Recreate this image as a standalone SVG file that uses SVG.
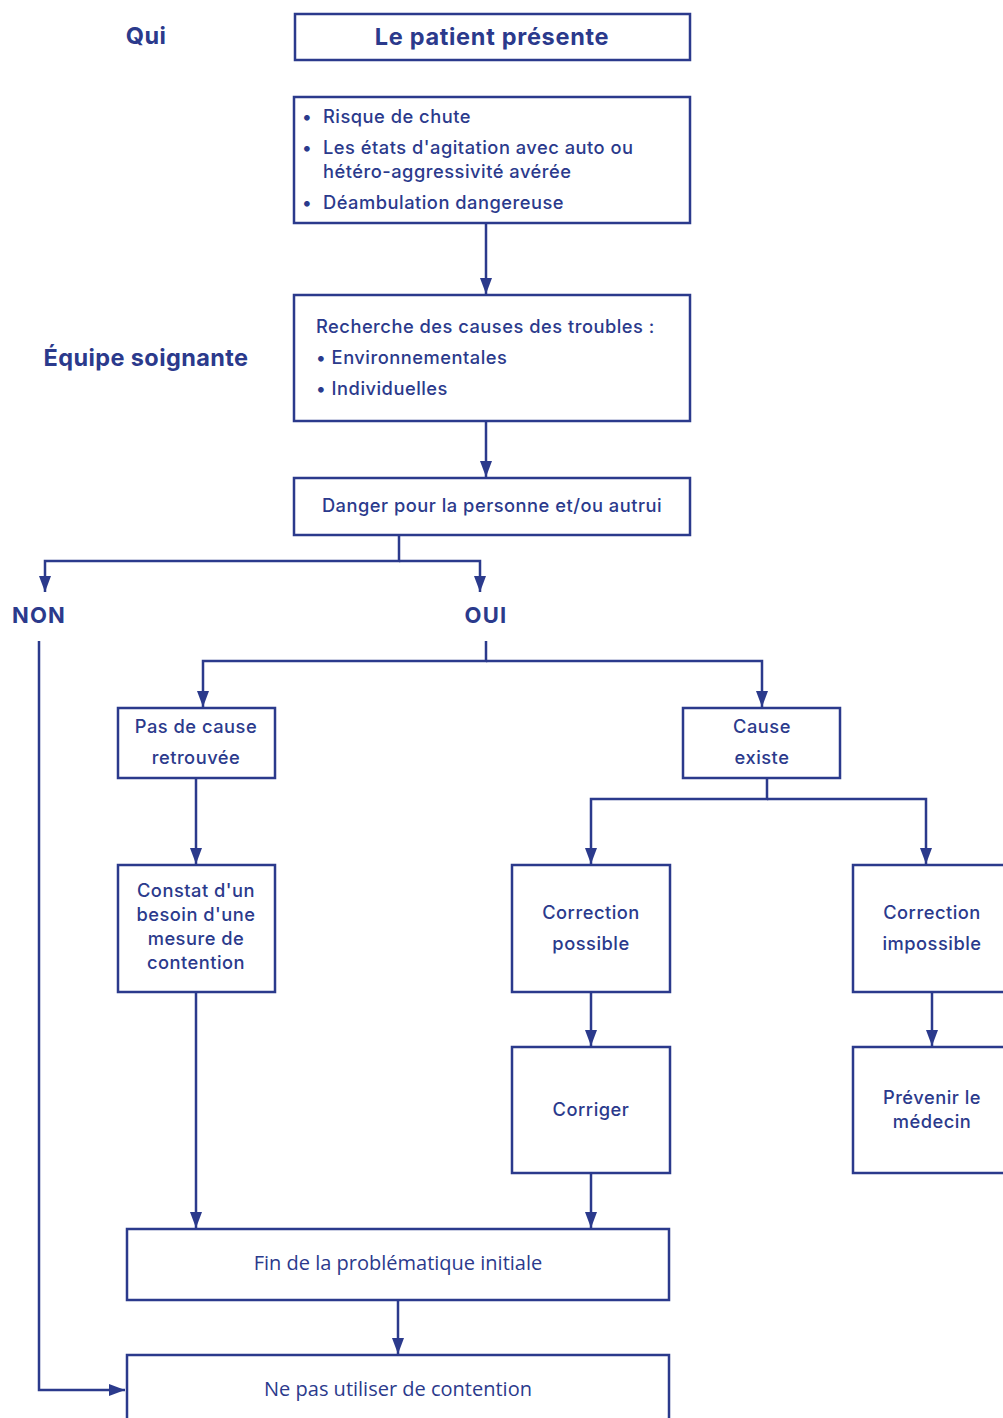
<svg xmlns="http://www.w3.org/2000/svg" width="1003" height="1418" viewBox="0 0 1003 1418">
<style>
.box{fill:#fff;stroke:#2b3a8c;stroke-width:2.5}
.ln{fill:none;stroke:#2b3a8c;stroke-width:2.5}
text{font-family:Inter,"Open Sans","Noto Sans",sans-serif;fill:#2b3a8c;font-size:18.3px;font-weight:500;letter-spacing:0.5px}
.c{text-anchor:middle}
.b{font-weight:700;letter-spacing:0.4px}
.n{font-family:"Open Sans","Noto Sans",sans-serif;font-weight:400;font-size:20px;letter-spacing:0}
</style>
<defs>
<marker id="ah" markerUnits="userSpaceOnUse" viewBox="0 0 16 12" refX="16" refY="6" markerWidth="16" markerHeight="12" orient="auto">
<path d="M0,0 L16,6 L0,12 z" fill="#2b3a8c"/>
</marker>
</defs>
<rect width="1003" height="1418" fill="#fff"/>
<g id="connectors">
<line class="ln" x1="486" y1="223" x2="486" y2="294" marker-end="url(#ah)"/>
<line class="ln" x1="486" y1="421" x2="486" y2="477" marker-end="url(#ah)"/>
<polyline class="ln" points="399,535 399,561 45,561 45,592" marker-end="url(#ah)"/>
<polyline class="ln" points="399,561 480,561 480,592" marker-end="url(#ah)"/>
<polyline class="ln" points="39,641 39,1390 125,1390" marker-end="url(#ah)"/>
<polyline class="ln" points="486,641 486,661 203,661 203,707" marker-end="url(#ah)"/>
<polyline class="ln" points="486,661 762,661 762,707" marker-end="url(#ah)"/>
<line class="ln" x1="196" y1="778" x2="196" y2="864" marker-end="url(#ah)"/>
<polyline class="ln" points="767,778 767,799 591,799 591,864" marker-end="url(#ah)"/>
<polyline class="ln" points="767,799 926,799 926,864" marker-end="url(#ah)"/>
<line class="ln" x1="591" y1="992" x2="591" y2="1046" marker-end="url(#ah)"/>
<line class="ln" x1="932" y1="992" x2="932" y2="1046" marker-end="url(#ah)"/>
<line class="ln" x1="196" y1="992" x2="196" y2="1228" marker-end="url(#ah)"/>
<line class="ln" x1="591" y1="1173" x2="591" y2="1228" marker-end="url(#ah)"/>
<line class="ln" x1="398" y1="1300" x2="398" y2="1354" marker-end="url(#ah)"/>
</g>
<g id="label-qui"><text class="c b" x="146" y="44" style="font-size:23.5px">Qui</text></g>
<g id="label-equipe"><text class="c b" x="146" y="366" style="font-size:23.5px">Équipe soignante</text></g>
<g id="label-non"><text class="c b" x="39" y="623" style="font-size:22px;letter-spacing:1.2px">NON</text></g>
<g id="label-oui"><text class="c b" x="486" y="623" style="font-size:22px;letter-spacing:1.2px">OUI</text></g>
<g id="n-patient">
<rect class="box" x="295" y="14" width="395" height="46"/>
<text class="c b" x="492" y="45" style="font-size:23.5px;letter-spacing:0.7px">Le patient présente</text>
</g>
<g id="n-symptomes">
<rect class="box" x="294" y="97" width="396" height="126"/>
<text x="302" y="123">•</text><text x="323" y="123">Risque de chute</text>
<text x="302" y="154">•</text><text x="323" y="154">Les états d'agitation avec auto ou</text>
<text x="323" y="178">hétéro-aggressivité avérée</text>
<text x="302" y="209">•</text><text x="323" y="209">Déambulation dangereuse</text>
</g>
<g id="n-recherche">
<rect class="box" x="294" y="295" width="396" height="126"/>
<text x="316" y="333">Recherche des causes des troubles :</text>
<text x="316" y="364">• Environnementales</text>
<text x="316" y="395">• Individuelles</text>
</g>
<g id="n-danger">
<rect class="box" x="294" y="478" width="396" height="57"/>
<text class="c" x="492" y="512">Danger pour la personne et/ou autrui</text>
</g>
<g id="n-pas-cause">
<rect class="box" x="118" y="708" width="157" height="70"/>
<text class="c" x="196" y="733">Pas de cause</text>
<text class="c" x="196" y="764">retrouvée</text>
</g>
<g id="n-cause-existe">
<rect class="box" x="683" y="708" width="157" height="70"/>
<text class="c" x="762" y="733">Cause</text>
<text class="c" x="762" y="764">existe</text>
</g>
<g id="n-constat">
<rect class="box" x="118" y="865" width="157" height="127"/>
<text class="c" x="196" y="897">Constat d'un</text>
<text class="c" x="196" y="921">besoin d'une</text>
<text class="c" x="196" y="945">mesure de</text>
<text class="c" x="196" y="969">contention</text>
</g>
<g id="n-corr-possible">
<rect class="box" x="512" y="865" width="158" height="127"/>
<text class="c" x="591" y="919">Correction</text>
<text class="c" x="591" y="950">possible</text>
</g>
<g id="n-corr-impossible">
<rect class="box" x="853" y="865" width="160" height="127"/>
<text class="c" x="932" y="919">Correction</text>
<text class="c" x="932" y="950">impossible</text>
</g>
<g id="n-corriger">
<rect class="box" x="512" y="1047" width="158" height="126"/>
<text class="c" x="591" y="1116">Corriger</text>
</g>
<g id="n-prevenir">
<rect class="box" x="853" y="1047" width="160" height="126"/>
<text class="c" x="932" y="1104">Prévenir le</text>
<text class="c" x="932" y="1128">médecin</text>
</g>
<g id="n-fin">
<rect class="box" x="127" y="1229" width="542" height="71"/>
<text class="c n" x="398" y="1270">Fin de la problématique initiale</text>
</g>
<g id="n-ne-pas">
<rect class="box" x="127" y="1355" width="542" height="80"/>
<text class="c n" x="398" y="1396">Ne pas utiliser de contention</text>
</g>
</svg>
